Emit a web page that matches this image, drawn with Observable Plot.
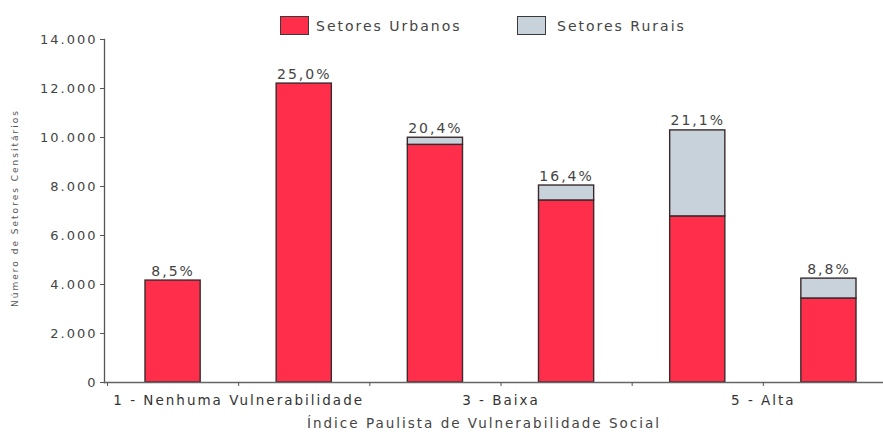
<!DOCTYPE html>
<html>
<head>
<meta charset="utf-8">
<script src="https://cdn.jsdelivr.net/npm/d3@7"></script>
<script src="https://cdn.jsdelivr.net/npm/@observablehq/plot@0.6"></script>
<style>
  body { margin: 0; background: #fff; }
  #wrap { position: relative; width: 883px; height: 432px; font-family: "DejaVu Sans", sans-serif; }
  #legend { position: absolute; left: 0; top: 0; width: 883px; height: 40px; }
  .sw { position: absolute; top: 16px; width: 27px; height: 17px; border: 1.5px solid #3a3a3a; }
  .lt { position: absolute; top: 16px; line-height: 20px; font-size: 14px; letter-spacing: 2px; color: #444; }
  #chart { position: absolute; left: 0; top: 0; }
</style>
</head>
<body>
<div id="wrap">
  <div id="chart"></div>
  <div id="legend"></div>
</div>
<script>
// ---- data ----
const categories = [1, 2, 3, 4, 5, 6];
const urbanValues = [4160, 12200, 9700, 7430, 6780, 3430];
const ruralValues = [0, 0, 290, 610, 3510, 810];
const percentLabels = ["8,5%", "25,0%", "20,4%", "16,4%", "21,1%", "8,8%"];
const seriesNames = ["Setores Urbanos", "Setores Rurais"];
const seriesColors = ["#ff2f4c", "#c7d2db"];
const xTickMarks = [0, 1, 2, 3, 4, 5];
const xTickValues = [1, 3, 5];
const xTickLabels = ["1 - Nenhuma Vulnerabilidade", "3 - Baixa", "5 - Alta"];
const yTickValues = [0, 2000, 4000, 6000, 8000, 10000, 12000, 14000];
const yTickLabels = ["0", "2.000", "4.000", "6.000", "8.000", "10.000", "12.000", "14.000"];
const xTitle = "Índice Paulista de Vulnerabilidade Social";
const yTitle = "Número de Setores Censitários";

// ---- tables built from the arrays ----
const stacked = categories.flatMap((k, i) => [
  {k, series: seriesNames[0], value: urbanValues[i]},
  {k, series: seriesNames[1], value: ruralValues[i]}
]).filter(d => d.value > 0);
const totals = categories.map((k, i) => ({k, total: urbanValues[i] + ruralValues[i], label: percentLabels[i]}));

const chart = Plot.plot({
  width: 883,
  height: 432,
  marginLeft: 104,
  marginRight: 0,
  marginTop: 39,
  marginBottom: 50,
  style: {fontFamily: "DejaVu Sans", fontSize: "13px", color: "#444", letterSpacing: "2px", background: "transparent"},
  x: {domain: [0, 6], range: [107, 894]},
  y: {domain: [0, 14000]},
  color: {domain: seriesNames, range: seriesColors},
  marks: [
    Plot.rectY(stacked, Plot.stackY({
      x1: d => d.k - 1, x2: d => d.k, y: "value", fill: "series",
      stroke: "#3a2a2c", strokeWidth: 1.4, insetLeft: 38, insetRight: 38
    })),
    Plot.text(totals, {x: d => d.k - 0.5, y: "total", text: "label", lineAnchor: "bottom", dy: -5, fontSize: 14, fill: "#444"}),
    Plot.frame({anchor: "left", stroke: "#555", strokeWidth: 1.3}),
    Plot.frame({anchor: "bottom", stroke: "#666", strokeWidth: 1.5}),
    Plot.axisY({ticks: yTickValues, tickFormat: d => yTickLabels[yTickValues.indexOf(d)], tickSize: 4, tickPadding: 3, label: null, fontSize: 13, stroke: "#555", fill: "#444"}),
    Plot.axisX({ticks: xTickMarks, tickFormat: () => "", tickSize: 4, label: null, stroke: "#555"}),
    Plot.axisX({ticks: xTickValues, tickFormat: d => xTickLabels[xTickValues.indexOf(d)], tickSize: 0, tickPadding: 13, label: null, fontSize: 13.5, fill: "#333"}),
    Plot.text([yTitle], {frameAnchor: "left", textAnchor: "middle", lineAnchor: "middle", rotate: -90, dx: -89, dy: -3, fontSize: 9, fill: "#555", letterSpacing: 1}),
    Plot.text([xTitle], {frameAnchor: "bottom", textAnchor: "middle", lineAnchor: "middle", dy: 41, dx: -10, fontSize: 13.5, fill: "#444"})
  ]
});
document.getElementById("chart").appendChild(chart);

// ---- legend (HTML, over the top of the svg) ----
const legend = document.getElementById("legend");
const swLeft = [280, 517];
const txtLeft = [316, 557];
seriesNames.forEach((name, i) => {
  const sw = document.createElement("div");
  sw.className = "sw";
  sw.style.left = swLeft[i] + "px";
  sw.style.background = seriesColors[i];
  legend.appendChild(sw);
  const t = document.createElement("div");
  t.className = "lt";
  t.style.left = txtLeft[i] + "px";
  t.textContent = name;
  legend.appendChild(t);
});
</script>
</body>
</html>
